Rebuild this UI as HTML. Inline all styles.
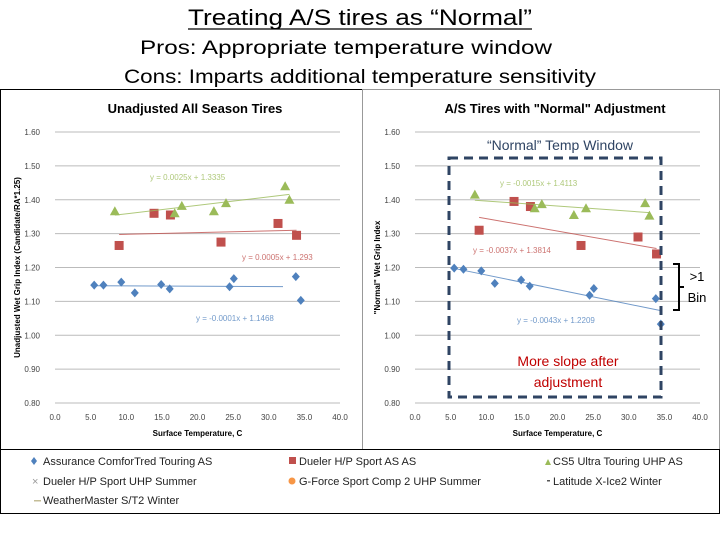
<!DOCTYPE html>
<html><head><meta charset="utf-8"><style>
body{margin:0;width:720px;height:540px;background:#fff;overflow:hidden;font-family:"Liberation Sans",sans-serif}
</style></head><body>
<svg width="720" height="540" xmlns="http://www.w3.org/2000/svg">
<text x="188" y="25" font-size="22" fill="#000" textLength="344" lengthAdjust="spacingAndGlyphs">Treating A/S tires as “Normal”</text>
<line x1="188" y1="29" x2="532" y2="29" stroke="#000" stroke-width="1.3"/>
<text x="140" y="54" font-size="19" textLength="412" lengthAdjust="spacingAndGlyphs">Pros: Appropriate temperature window</text>
<text x="124" y="83" font-size="19" textLength="472" lengthAdjust="spacingAndGlyphs">Cons: Imparts additional temperature sensitivity</text>
<rect x="0.5" y="89.5" width="362" height="360" fill="none" stroke="#000"/>
<rect x="362.5" y="89.5" width="357" height="360" fill="none" stroke="#999"/>
<rect x="0.5" y="449.5" width="719" height="64" fill="none" stroke="#000"/>
<g id="left"></g><g id="right"></g>
<rect x="449" y="158" width="212" height="239" fill="none" stroke="#2f4463" stroke-width="3" stroke-dasharray="9,6"/>
<text x="560" y="150" text-anchor="middle" font-size="14" fill="#2f4463">“Normal” Temp Window</text>
<text x="568" y="366" text-anchor="middle" font-size="14" fill="#c00000">More slope after</text>
<text x="568" y="387" text-anchor="middle" font-size="14" fill="#c00000">adjustment</text>
<path d="M673 264 H679 V310 H673 M679 287 H684" fill="none" stroke="#000" stroke-width="2"/>
<text x="697" y="281" text-anchor="middle" font-size="13">&gt;1</text>
<text x="697" y="302" text-anchor="middle" font-size="13">Bin</text>
<g font-size="11" fill="#222">
<path d="M34 457 l3 4 -3 4 -3 -4z" fill="#4f81bd"/><text x="43" y="465">Assurance ComforTred Touring AS</text>
<rect x="289" y="457" width="7" height="7" fill="#c0504d"/><text x="299" y="465">Dueler H/P Sport AS AS</text>
<path d="M545 465 l3 -6 3 6z" fill="#9bbb59"/><text x="553" y="465">CS5 Ultra Touring UHP AS</text>
<text x="32" y="485" fill="#999">×</text><text x="43" y="485">Dueler H/P Sport UHP Summer</text>
<circle cx="292" cy="481" r="3.5" fill="#f79646"/><text x="299" y="485">G-Force Sport Comp 2 UHP Summer</text>
<rect x="547" y="480" width="3" height="1.5" fill="#555"/><text x="553" y="485">Latitude X-Ice2 Winter</text>
<rect x="34" y="500" width="7" height="1.5" fill="#c4bd97"/><text x="43" y="504">WeatherMaster S/T2 Winter</text>
</g>
</svg>
<script>
const xTicks=[0,5,10,15,20,25,30,35,40];
const yTicks=[0.8,0.9,1.0,1.1,1.2,1.3,1.4,1.5,1.6];
const temps=[5.5,6.8,9.3,11.2,14.9,16.1,24.5,25.1,33.8,34.5];
const redTemps=[9.0,13.9,16.2,23.3,31.3,33.9];
const greenTemps=[8.4,16.8,17.8,22.3,24.0,32.3,32.9];
const leftBlue=[1.148,1.148,1.157,1.125,1.150,1.137,1.143,1.167,1.173,1.103];
const leftRed=[1.265,1.36,1.355,1.275,1.33,1.295];
const leftGreen=[1.366,1.36,1.382,1.366,1.39,1.44,1.40];
const rightBlue=[1.198,1.195,1.19,1.153,1.163,1.145,1.118,1.138,1.108,1.033];
const rightRed=[1.31,1.395,1.38,1.265,1.29,1.24];
const rightGreen=[1.415,1.375,1.387,1.355,1.375,1.39,1.353];
const leftFits=[[-0.0001,1.1468],[0.0005,1.293],[0.0025,1.3335]];
const rightFits=[[-0.0043,1.2209],[-0.0037,1.3814],[-0.0015,1.4113]];
const leftLabels=["y = -0.0001x + 1.1468","y = 0.0005x + 1.293","y = 0.0025x + 1.3335"];
const rightLabels=["y = -0.0043x + 1.2209","y = -0.0037x + 1.3814","y = -0.0015x + 1.4113"];
const NS="http://www.w3.org/2000/svg";
function mk(p,t,a){const e=document.createElementNS(NS,t);for(const k in a)e.setAttribute(k,a[k]);p.appendChild(e);return e;}
function chart(g,x0,title,ytitle,blue,red,green,fits,labels,labelPos,side){
 const X=v=>x0+v/40*285, Y=v=>403-(v-0.8)/0.8*271;
 const t=mk(g,'text',{x:x0+140,y:113,'text-anchor':'middle','font-size':13,'font-weight':'bold'});t.textContent=title;
 
 
 yTicks.forEach(v=>{const l=mk(g,'line',{x1:X(0),x2:X(40),y1:Y(v),y2:Y(v),stroke:'#bbb','stroke-width':1});
  
  
  const tx=mk(g,'text',{x:X(0)-15,y:Y(v)+3,'text-anchor':'end','font-size':8,fill:'#444'});tx.textContent=v.toFixed(2);
  
  });
 xTicks.forEach(v=>{const tx=mk(g,'text',{x:X(v),y:420,'text-anchor':'middle','font-size':8,fill:'#444'});tx.textContent=v.toFixed(1);
  
  });
 const xt=mk(g,'text',{x:X(20),y:436,'text-anchor':'middle','font-size':8,'font-weight':'bold'});xt.textContent='Surface Temperature, C';
 
 
 const yt=mk(g,'text',{x:0,y:0,'text-anchor':'middle','font-size':8,'font-weight':'bold',transform:`translate(${X(0)-35},${Y(1.2)}) rotate(-90)`});yt.textContent=ytitle;
 
 
 const cols=['#4f81bd','#c0504d','#9bbb59'], sets=[[temps,blue],[redTemps,red],[greenTemps,green]];
 sets.forEach((s,i)=>{const xs=s[0];const a=Math.min(...xs),b=i==0&&side=='left'?32:Math.max(...xs);
  const f=fits[i];const l=mk(g,'line',{x1:X(a),y1:Y(f[0]*a+f[1]),x2:X(b),y2:Y(f[0]*b+f[1]),stroke:cols[i],'stroke-width':1,opacity:0.8});
  
  
  const lt=mk(g,'text',{x:labelPos[i][0],y:labelPos[i][1],'font-size':8,fill:cols[i],opacity:0.8});lt.textContent=labels[i];
  
  
  xs.forEach((xv,j)=>{const cx=X(xv),cy=Y(s[1][j]);let m;
   if(i==0)m=mk(g,'path',{d:`M${cx} ${cy-4.5}L${cx+4} ${cy}L${cx} ${cy+4.5}L${cx-4} ${cy}Z`,fill:cols[i]});
   else if(i==1)m=mk(g,'rect',{x:cx-4.5,y:cy-4.5,width:9,height:9,fill:cols[i]});
   else m=mk(g,'path',{d:`M${cx} ${cy-5}L${cx+5} ${cy+4}L${cx-5} ${cy+4}Z`,fill:cols[i]});
   
   });});
}
chart(document.getElementById('left'),55,'Unadjusted All Season Tires','Unadjusted Wet Grip Index (Candidate/RA*1.25)',leftBlue,leftRed,leftGreen,leftFits,leftLabels,[[196,321],[242,260],[150,180]],'left');
chart(document.getElementById('right'),415,'A/S Tires with "Normal" Adjustment','"Normal" Wet Grip Index',rightBlue,rightRed,rightGreen,rightFits,rightLabels,[[517,323],[473,253],[500,186]],'right');
</script>
</body></html>
